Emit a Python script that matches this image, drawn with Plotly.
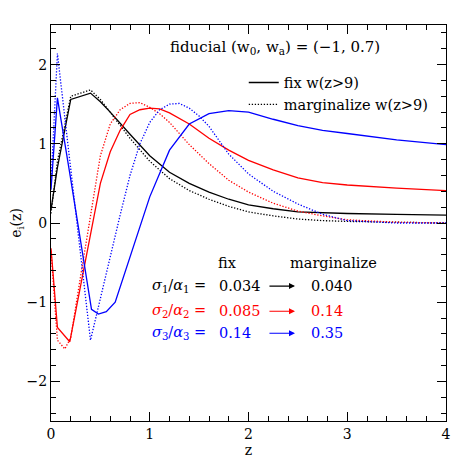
import plotly.graph_objects as go

# ---- data ----
z_fix1 = [0, 0.065, 0.2, 0.4, 0.5, 0.6, 0.8, 1.0, 1.2, 1.4, 1.6, 1.8, 2.0, 2.25, 2.5, 2.75, 3.0, 3.5, 4.0]
e_fix1 = [0.17, 0.70, 1.56, 1.64, 1.53, 1.40, 1.12, 0.85, 0.64, 0.50, 0.39, 0.30, 0.23, 0.18, 0.14, 0.13, 0.12, 0.11, 0.10]
z_mar1 = [0, 0.065, 0.2, 0.4, 0.5, 0.6, 0.8, 1.0, 1.2, 1.4, 1.6, 1.8, 2.0, 2.25, 2.5, 2.75, 3.0, 3.5, 4.0]
e_mar1 = [0.12, 0.78, 1.60, 1.68, 1.56, 1.40, 1.07, 0.78, 0.56, 0.41, 0.30, 0.21, 0.14, 0.09, 0.05, 0.03, 0.02, 0.01, 0.0]

z_fix2 = [0, 0.065, 0.19, 0.3, 0.4, 0.5, 0.6, 0.7, 0.8, 0.9, 1.0, 1.1, 1.2, 1.4, 1.6, 1.8, 2.0, 2.25, 2.5, 2.75, 3.0, 3.5, 4.0]
e_fix2 = [-0.32, -1.32, -1.50, -0.80, -0.12, 0.50, 0.90, 1.17, 1.37, 1.43, 1.45, 1.44, 1.39, 1.25, 1.07, 0.92, 0.79, 0.67, 0.57, 0.51, 0.48, 0.44, 0.41]
z_mar2 = [0, 0.065, 0.14, 0.2, 0.3, 0.4, 0.5, 0.6, 0.7, 0.8, 0.9, 1.0, 1.1, 1.2, 1.4, 1.6, 1.8, 2.0, 2.25, 2.5, 2.75, 3.0, 3.5, 4.0]
e_mar2 = [-0.35, -1.48, -1.59, -1.45, -0.67, 0.12, 0.85, 1.25, 1.43, 1.51, 1.52, 1.46, 1.38, 1.27, 0.99, 0.75, 0.54, 0.39, 0.25, 0.15, 0.09, 0.04, 0.01, 0.0]

z_fix3 = [0, 0.065, 0.2, 0.41, 0.48, 0.56, 0.65, 0.8, 1.0, 1.2, 1.4, 1.6, 1.8, 2.0, 2.25, 2.5, 2.75, 3.0, 3.5, 4.0]
e_fix3 = [0.42, 1.58, 0.55, -1.09, -1.15, -1.12, -1.00, -0.42, 0.33, 0.92, 1.25, 1.38, 1.42, 1.40, 1.31, 1.23, 1.17, 1.13, 1.05, 0.99]
z_mar3 = [0, 0.065, 0.40, 0.5, 0.6, 0.7, 0.8, 0.9, 1.0, 1.1, 1.2, 1.3, 1.4, 1.5, 1.6, 1.8, 2.0, 2.25, 2.5, 2.75, 3.0, 3.5, 4.0]
e_mar3 = [0.50, 2.14, -1.48, -0.95, -0.40, 0.10, 0.60, 1.00, 1.27, 1.43, 1.50, 1.51, 1.45, 1.35, 1.22, 0.87, 0.62, 0.40, 0.24, 0.11, 0.03, 0.0, 0.0]

labels = ["<i>σ</i><sub>1</sub>/<i>α</i><sub>1</sub> =",
          "<i>σ</i><sub>2</sub>/<i>α</i><sub>2</sub> =",
          "<i>σ</i><sub>3</sub>/<i>α</i><sub>3</sub> ="]
fix_vals = ["0.034", "0.085", "0.14"]
mar_vals = ["0.040", "0.14", "0.35"]
colors = ["black", "red", "blue"]
x_ticks = [0, 1, 2, 3, 4]
y_ticks = [-2, -1, 0, 1, 2]

FONT = "DejaVu Serif"
DOT = "1.3px,1.7px"

fig = go.Figure()
series = [(z_fix1, e_fix1, z_mar1, e_mar1), (z_fix2, e_fix2, z_mar2, e_mar2), (z_fix3, e_fix3, z_mar3, e_mar3)]
for (zf, ef, zm, em), c in zip(series, colors):
    fig.add_trace(go.Scatter(x=zf, y=ef, mode="lines", line=dict(color=c, width=1.3), showlegend=False))
    fig.add_trace(go.Scatter(x=zm, y=em, mode="lines", line=dict(color=c, width=1.3, dash=DOT), showlegend=False))

# legend entries
fig.add_trace(go.Scatter(x=[None], y=[None], mode="lines", line=dict(color="black", width=1.3), name="fix w(z>9)"))
fig.add_trace(go.Scatter(x=[None], y=[None], mode="lines", line=dict(color="black", width=1.3, dash=DOT), name="marginalize w(z>9)"))

ann = []
ann.append(dict(x=2.27, y=2.215, text="fiducial (w<sub>0</sub>, w<sub>a</sub>) = (−1, 0.7)", showarrow=False,
                font=dict(family=FONT, size=15, color="black"), xanchor="center", yanchor="middle"))
ann.append(dict(x=1.787, y=-0.506, text="fix", showarrow=False, font=dict(family=FONT, size=14.5, color="black")))
ann.append(dict(x=2.856, y=-0.506, text="marginalize", showarrow=False, font=dict(family=FONT, size=14.5, color="black")))
rows_y = [-0.797, -1.114, -1.392]
for lab, fv, mv, c, yy in zip(labels, fix_vals, mar_vals, colors, rows_y):
    ann.append(dict(x=1.0, y=yy, text=lab, showarrow=False, xanchor="left", yanchor="middle",
                    font=dict(family=FONT, size=14.5, color=c)))
    ann.append(dict(x=1.68, y=yy, text=fv, showarrow=False, xanchor="left", yanchor="middle",
                    font=dict(family=FONT, size=14.5, color=c)))
    ann.append(dict(x=2.613, y=yy, text=mv, showarrow=False, xanchor="left", yanchor="middle",
                    font=dict(family=FONT, size=14.5, color=c)))
    ann.append(dict(x=2.471, y=yy, ax=2.197, ay=yy, axref="x", ayref="y", xref="x", yref="y", text="",
                    showarrow=True, arrowhead=2, arrowsize=1, arrowwidth=1.2, arrowcolor=c))

axis_common = dict(showgrid=False, zeroline=False, showline=True, linecolor="black", linewidth=1,
                   mirror="ticks", ticks="inside", ticklen=9, tickcolor="black", tickwidth=1, automargin=False,
                   tickfont=dict(family=FONT, size=14, color="black"))
fig.update_xaxes(range=[0, 4], tickvals=x_ticks, ticktext=[str(v) for v in x_ticks],
                 minor=dict(dtick=0.2, tick0=0, ticks="inside", ticklen=5, tickcolor="black"),
                 title=dict(text="z", font=dict(family=FONT, size=14, color="black"), standoff=2), **axis_common)
fig.update_yaxes(range=[-2.5, 2.5], tickvals=y_ticks, ticktext=[("−" + str(-v)) if v < 0 else str(v) for v in y_ticks],
                 minor=dict(dtick=0.2, tick0=0, ticks="inside", ticklen=5, tickcolor="black"),
                 title=dict(text="e<sub>i</sub>(z)", font=dict(family=FONT, size=14, color="black"), standoff=4), **axis_common)

# page body has an 8px default margin, so the figure is 455x455 and offsets shrink by 8
fig.update_layout(width=455, height=455, margin=dict(l=43, r=17, t=17, b=42),
                  paper_bgcolor="white", plot_bgcolor="white", annotations=ann,
                  legend=dict(x=0.488, y=0.895, xanchor="left", yanchor="top", bgcolor="rgba(0,0,0,0)",
                              font=dict(family=FONT, size=14.5, color="black"), tracegroupgap=0),
                  font=dict(family=FONT))
fig.write_html("out.html")
